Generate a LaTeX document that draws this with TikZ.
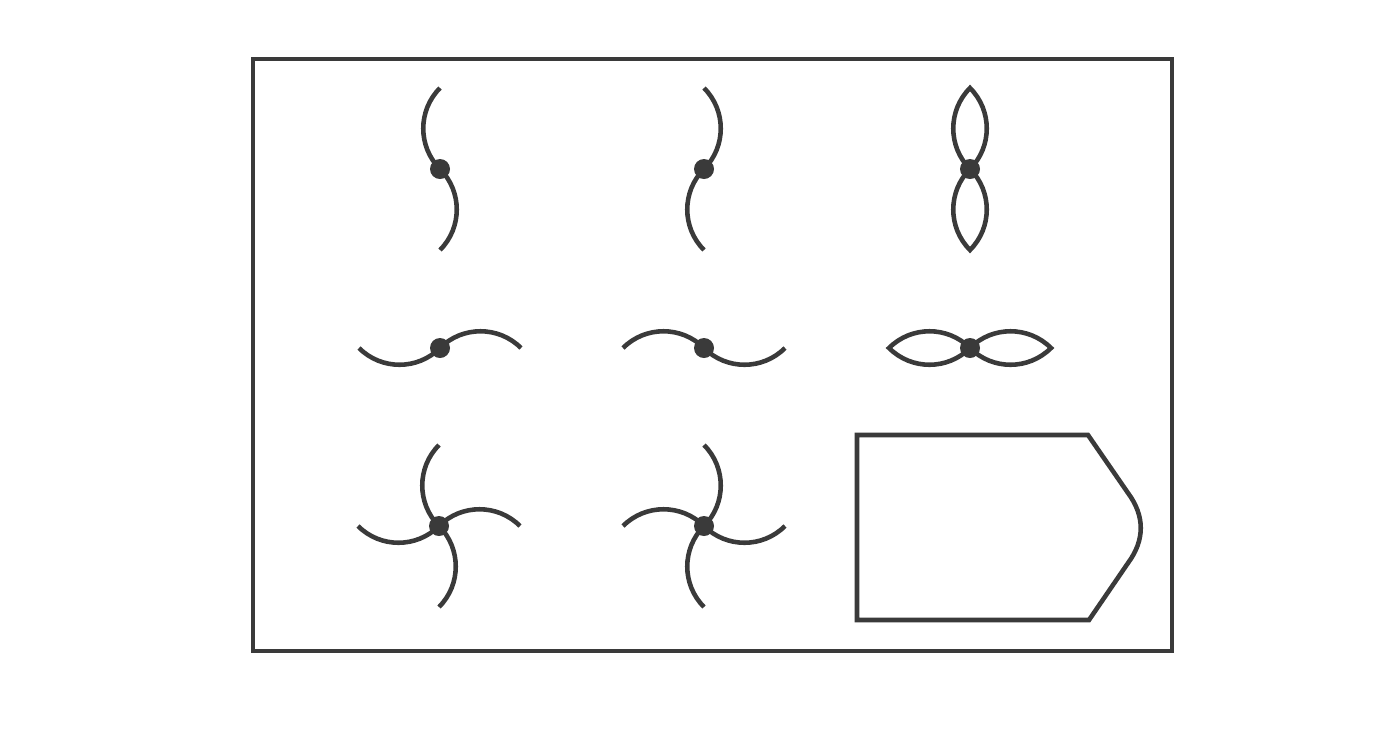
\documentclass[tikz,border=0pt]{standalone}
\definecolor{ink}{HTML}{3A3A3A}
\begin{document}
\begin{tikzpicture}[
  blade/.style={draw=ink, line width=1.3pt},
  frame/.style={draw=ink, line width=0.9pt}]
  \useasboundingbox (0,0) rectangle (14,7.52);
  % Frame
  \draw[frame] (2.53,1.01) rectangle (11.72,6.93);
  % Hub positions
  \coordinate (hubA) at (4.40,5.83);
  \coordinate (hubB) at (7.04,5.83);
  \coordinate (hubC) at (9.70,5.83);
  \coordinate (hubD) at (4.40,4.04);
  \coordinate (hubE) at (7.04,4.04);
  \coordinate (hubF) at (9.70,4.04);
  \coordinate (hubG) at (4.39,2.26);
  \coordinate (hubH) at (7.04,2.26);
  % Blades bending left
  \foreach \h/\a in {A/0, A/180, D/90, D/270, G/0, G/90, G/180, G/270} {
    \draw[blade] (hub\h) to[bend left=45] ++(90+\a:0.81);
  }
  % Blades bending right
  \foreach \h/\a in {B/0, B/180, E/90, E/270, H/0, H/90, H/180, H/270} {
    \draw[blade] (hub\h) to[bend right=45] ++(90+\a:0.81);
  }
  % Leaf blades
  \foreach \h/\a in {C/0, C/180, F/90, F/270} {
    \draw[blade] (hub\h) to[bend left=45] ++(90+\a:0.81) to[bend left=45] (hub\h);
  }
  % Hubs
  \foreach \h in {A,B,C,D,E,F,G,H} {
    \fill[ink] (hub\h) circle (0.1cm);
  }
  % Block outline
  \draw[blade] (8.57,3.17) -- (10.88,3.17) -- (11.28,2.59)
    .. controls (11.45,2.36) and (11.45,2.12) .. (11.28,1.89)
    -- (10.89,1.32) -- (8.57,1.32) -- cycle;
\end{tikzpicture}
\end{document}
